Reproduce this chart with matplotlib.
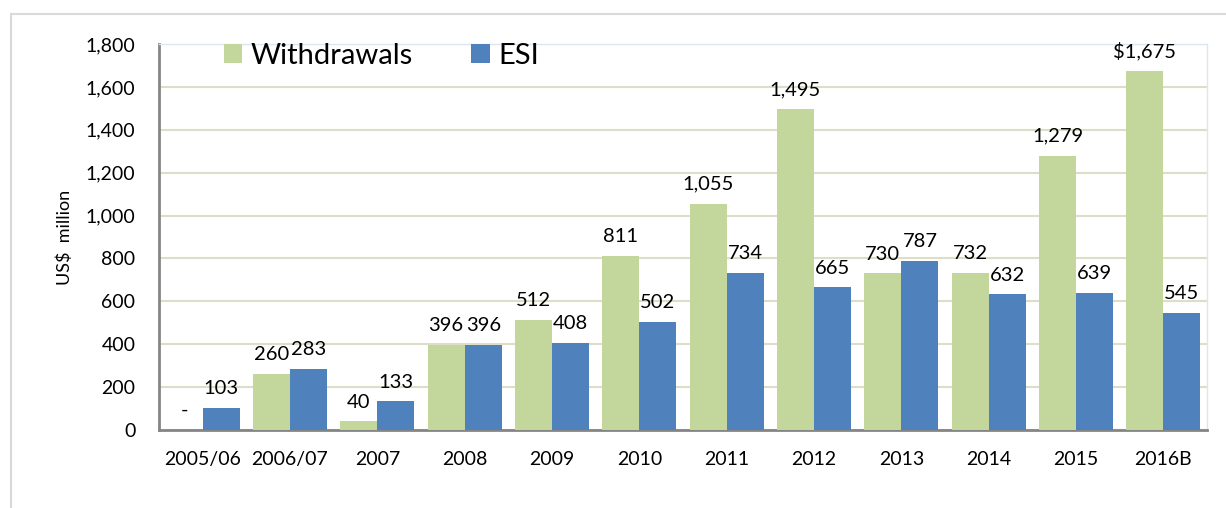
import numpy as np
import matplotlib
matplotlib.use("Agg")
import matplotlib.pyplot as plt
from matplotlib.patches import Rectangle

years = ['2005/06', '2006/07', '2007', '2008', '2009', '2010', '2011',
         '2012', '2013', '2014', '2015', '2016B']
withdrawals = [0, 260, 40, 396, 512, 811, 1055, 1495, 730, 732, 1279, 1675]
esi = [103, 283, 133, 396, 408, 502, 734, 665, 787, 632, 639, 545]
withdrawal_labels = ['-', '260', '40', '396', '512', '811', '1,055', '1,495',
                     '730', '732', '1,279', '$1,675']
esi_labels = ['103', '283', '133', '396', '408', '502', '734', '665',
              '787', '632', '639', '545']

GREEN = '#C3D69B'
BLUE = '#4F81BD'

plt.rcParams['font.family'] = ['Lato', 'DejaVu Sans']

W, H = 1226, 508
fig = plt.figure(figsize=(W / 100, H / 100), dpi=100)
ax = fig.add_axes([159 / W, 1 - 430 / H, (1207 - 159) / W, (430 - 44) / H])

# outer chart border
fig.patches.append(Rectangle((11 / W, -0.1), 1.2, 1.1 - 14 / H,
                             transform=fig.transFigure, fill=False,
                             edgecolor='#D9D9D9', linewidth=1.5))

x = np.arange(len(years))
bw = 0.425
b1 = ax.bar(x - bw / 2, withdrawals, bw, color=GREEN, label='Withdrawals', zorder=3)
b2 = ax.bar(x + bw / 2, esi, bw, color=BLUE, label='ESI', zorder=3)

for rect, lab in zip(b1, withdrawal_labels):
    ax.annotate(lab, (rect.get_x() + rect.get_width() / 2, rect.get_height()),
                xytext=(0, 10), textcoords='offset points', ha='center',
                va='baseline', fontsize=14.5)
for rect, lab in zip(b2, esi_labels):
    ax.annotate(lab, (rect.get_x() + rect.get_width() / 2, rect.get_height()),
                xytext=(0, 10), textcoords='offset points', ha='center',
                va='baseline', fontsize=14.5)

ax.set_xlim(-0.5, len(years) - 0.5)
ax.set_ylim(0, 1800)
ax.set_yticks(range(0, 1801, 200))
ax.set_yticklabels([f'{v:,}' for v in range(0, 1801, 200)])
ax.set_xticks(x)
ax.set_xticklabels(years)
ax.tick_params(axis='both', length=0, labelsize=14)
ax.tick_params(axis='y', pad=17)
ax.tick_params(axis='x', pad=15)
ax.yaxis.grid(True, color='#DDDDC8', linewidth=1.5, zorder=0)
ax.set_axisbelow(True)

for s in ['left', 'bottom']:
    ax.spines[s].set_color('#858585')
    ax.spines[s].set_linewidth(2)
for s in ['top', 'right']:
    ax.spines[s].set_color('#DCE6F0')
    ax.spines[s].set_linewidth(1)

ax.set_ylabel('US$  million', fontsize=13, labelpad=9)

ax.legend(loc='upper left', bbox_to_anchor=(224 / W, 1 - 43 / H),
          bbox_transform=fig.transFigure, ncol=2, frameon=False,
          fontsize=21, handlelength=0.62, handleheight=0.62,
          handletextpad=0.3, columnspacing=2.0, borderpad=0,
          borderaxespad=0)

fig.savefig('out.png', dpi=100)
